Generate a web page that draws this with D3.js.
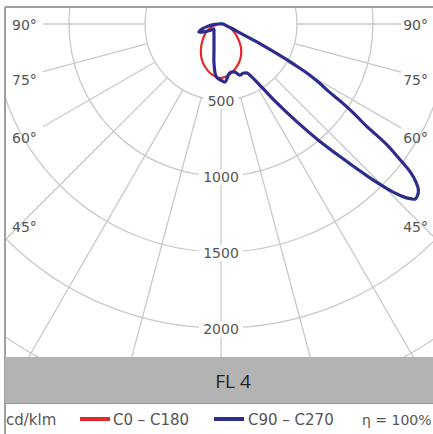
<!DOCTYPE html>
<html><head><meta charset="utf-8">
<script src="https://cdn.jsdelivr.net/npm/d3@7"></script>
<style>html,body{margin:0;padding:0;background:#fff;} svg{display:block;}</style>
</head><body>
<svg id="chart" width="433" height="434"></svg>
<script>
// ---- data (cd/klm) ----
const gridValues = [500, 1000, 1500, 2000, 2500, 3000];
const radiusLabels = ["500", "1000", "1500", "2000"];
const gridAngles = [0, 15, 30, 45, 60, 75, 90];
const labelAngles = [90, 75, 60, 45];
const angleLabels = ["90°", "75°", "60°", "45°"];

const redAngles = [0, 10, 20, 30, 40, 50, 60, 70, 80, 90];
const redC0   = [355, 335, 300, 258, 205, 145, 95, 52, 24, 5];
const redC180 = [355, 338, 303, 258, 205, 155, 115, 72, 34, 8];

const blueAnglesC90 = [0, 4, 10, 16, 20, 24, 28, 30, 32, 35, 38, 40, 42, 44, 45, 46, 47, 48, 49, 50, 51, 52, 53, 54, 55, 56, 57, 58, 59, 60, 61, 62, 63, 64, 66, 70, 80, 90];
const blueC90 = [370, 382, 328, 329, 358, 355, 365, 400, 458, 620, 830, 1000, 1180, 1400, 1510, 1610, 1680, 1720, 1715, 1695, 1650, 1580, 1460, 1340, 1160, 1060, 950, 830, 760, 680, 560, 420, 300, 200, 110, 50, 22, 15];
const blueAnglesC270 = [0, 5, 10, 15, 20, 25, 30, 40, 50, 55, 60, 65, 70, 75, 80, 85, 90];
const blueC270 = [370, 350, 265, 178, 135, 109, 92, 72, 60, 58, 85, 120, 155, 130, 90, 50, 20];

const seriesNames = ["C0 – C180", "C90 – C270"];
const unitLabel = "cd/klm";
const etaLabel = "η = 100%";
const title = "FL 4";

// ---- layout ----
const W = 433, H = 434;
const box = {x0: 5, y0: 7, x1: 433, y1: 357};
const cx = 221, cy = 24;
const band = {y0: 357, y1: 403};
const labelY = {90: 25, 75: 80, 60: 138, 45: 227};
const lineEnd = {left: 43, right: 401};
const gridColor = "#c9c9c9", textColor = "#555";
const redColor = "#e3262b", blueColor = "#2c2c8c";

const svg = d3.select("#chart");
const r = d3.scaleLinear().domain([0, 500]).range([0, 76]);
const rad = d => d * Math.PI / 180;

svg.append("defs").append("clipPath").attr("id", "clip")
  .append("rect").attr("x", box.x0).attr("y", box.y0)
  .attr("width", box.x1 - box.x0).attr("height", box.y1 - box.y0);

const plot = svg.append("g").attr("clip-path", "url(#clip)");
const g = plot.append("g").attr("transform", `translate(${cx},${cy})`);

// circles
g.selectAll("circle.grid").data(gridValues).join("circle")
  .attr("class", "grid").attr("r", d => r(d))
  .attr("fill", "none").attr("stroke", gridColor).attr("stroke-width", 1.3);

// radial lines
const radial = [];
gridAngles.forEach(a => {
  const sides = a === 0 ? [1] : [-1, 1];
  sides.forEach(s => {
    let rEnd = 1000;
    if (a >= 60) {
      const dist = s < 0 ? cx - lineEnd.left : lineEnd.right - cx;
      rEnd = dist / Math.sin(rad(a));
    }
    radial.push({a, s, r0: r(500), r1: rEnd});
  });
});
g.selectAll("line.radial").data(radial).join("line")
  .attr("class", "radial")
  .attr("x1", d => d.s * d.r0 * Math.sin(rad(d.a)))
  .attr("y1", d => d.r0 * Math.cos(rad(d.a)))
  .attr("x2", d => d.s * d.r1 * Math.sin(rad(d.a)))
  .attr("y2", d => d.r1 * Math.cos(rad(d.a)))
  .attr("stroke", gridColor).attr("stroke-width", 1.3);

// radius labels
const rl = g.selectAll("g.rl").data(radiusLabels).join("g").attr("class", "rl")
  .attr("transform", d => `translate(0,${r(+d) + 1})`);
rl.append("rect").attr("x", d => -(d.length * 9 + 8) / 2).attr("y", -8)
  .attr("width", d => d.length * 9 + 8).attr("height", 16).attr("fill", "#fff");
rl.append("text").text(d => d).attr("text-anchor", "middle").attr("dy", "0.36em")
  .attr("font-family", "DejaVu Sans").attr("font-size", 14).attr("fill", textColor);

// angle labels
labelAngles.forEach((a, i) => {
  plot.append("text").text(angleLabels[i]).attr("x", 12).attr("y", labelY[a]).attr("dy", "0.36em")
    .attr("font-family", "DejaVu Sans").attr("font-size", 14).attr("fill", textColor);
  plot.append("text").text(angleLabels[i]).attr("x", 428).attr("y", labelY[a]).attr("dy", "0.36em")
    .attr("text-anchor", "end")
    .attr("font-family", "DejaVu Sans").attr("font-size", 14).attr("fill", textColor);
});

// curves
function buildPoints(anglesL, valsL, anglesR, valsR) {
  const pts = [];
  for (let i = anglesL.length - 1; i >= 0; i--) pts.push({a: Math.PI + rad(anglesL[i]), v: valsL[i]});
  for (let i = 0; i < anglesR.length; i++) {
    if (anglesR[i] === 0) continue;
    pts.push({a: Math.PI - rad(anglesR[i]), v: valsR[i]});
  }
  return pts;
}
const lineR = d3.lineRadial().angle(d => d.a).radius(d => r(d.v))
  .curve(d3.curveCatmullRomClosed.alpha(0.5));

g.append("path").datum(buildPoints(redAngles, redC180, redAngles, redC0))
  .attr("d", lineR).attr("fill", "none").attr("stroke", redColor).attr("stroke-width", 2.2);
g.append("path").datum(buildPoints(blueAnglesC270, blueC270, blueAnglesC90, blueC90))
  .attr("d", lineR).attr("fill", "none").attr("stroke", blueColor).attr("stroke-width", 3.2)
  .attr("stroke-linejoin", "round");

// border
svg.append("line").attr("x1", box.x0).attr("x2", W).attr("y1", box.y0).attr("y2", box.y0)
  .attr("stroke", "#a0a0a0").attr("stroke-width", 2);
svg.append("line").attr("x1", box.x0).attr("x2", box.x0).attr("y1", box.y0).attr("y2", H)
  .attr("stroke", "#a0a0a0").attr("stroke-width", 2);

// band
svg.append("rect").attr("x", box.x0).attr("y", band.y0).attr("width", W - box.x0)
  .attr("height", band.y1 - band.y0).attr("fill", "#b3b3b3");
svg.append("line").attr("x1", box.x0).attr("x2", W).attr("y1", band.y1 + 0.5).attr("y2", band.y1 + 0.5)
  .attr("stroke", "#9a9a9a").attr("stroke-width", 1);
svg.append("text").text(title).attr("x", 233).attr("y", 388).attr("text-anchor", "middle")
  .attr("font-family", "Open Sans").attr("font-size", 19).attr("fill", "#222");

// legend
const ly = 420;
const lg = svg.append("g").attr("font-family", "DejaVu Sans").attr("font-size", 15).attr("fill", textColor);
lg.append("text").text(unitLabel).attr("x", 6).attr("y", ly).attr("dy", "0.36em");
const legendItems = [
  {name: seriesNames[0], color: redColor, x1: 80, x2: 110, tx: 113},
  {name: seriesNames[1], color: blueColor, x1: 214, x2: 244, tx: 248}
];
legendItems.forEach(it => {
  lg.append("line").attr("x1", it.x1).attr("x2", it.x2).attr("y1", ly - 1).attr("y2", ly - 1)
    .attr("stroke", it.color).attr("stroke-width", 4);
  lg.append("text").text(it.name).attr("x", it.tx).attr("y", ly).attr("dy", "0.36em");
});
lg.append("text").text(etaLabel).attr("x", 362).attr("y", ly).attr("dy", "0.36em").attr("font-size", 14);
</script>
</body></html>
